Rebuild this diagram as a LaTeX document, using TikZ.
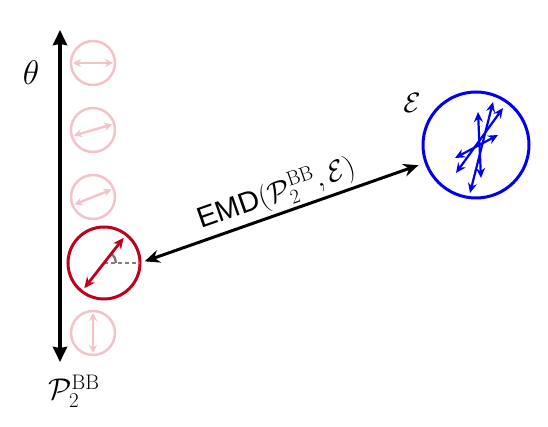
\RequirePackage{fix-cm}
\documentclass[tikz,border=0pt]{standalone}
\usepackage{fontspec}
\newfontfamily\labelsans{Liberation Sans}
\usetikzlibrary{arrows.meta}
\definecolor{faded}{RGB}{242,196,202}
\definecolor{crimson}{RGB}{192,0,30}
\definecolor{emdblue}{RGB}{0,0,235}
\begin{document}
\begin{tikzpicture}[x=1pt,y=1pt,>=Stealth,
  ghost/.style={draw=faded, line width=2.5pt, circle, minimum size=44pt, inner sep=0pt, outer sep=0pt},
  ghostarr/.style={<->, faded, line width=2.4pt, shorten <=2pt, shorten >=2pt, >={Stealth[length=8pt,width=8pt]}},
  errarr/.style={<->, emdblue, line width=2.2pt, >={Stealth[length=10pt,width=9pt]}}]
\useasboundingbox (0,0) rectangle (548,427);

\coordinate (top) at (60,397);
\coordinate (bot) at (60,65);
\draw[<->, line width=4.5pt, >={Stealth[length=15pt,width=14pt,inset=1pt]}] (bot) -- (top);
\node at (31,354) {\fontsize{34}{40}\selectfont$\theta$};
\node (pbb) at (74,36) {\fontsize{30}{36}\selectfont$\mathcal{P}_2^{\mathrm{BB}}$};

\node[ghost] (g1) at (93,364) {};
\node[ghost] (g2) at (93,297) {};
\node[ghost] (g3) at (93,230) {};
\node[ghost] (g4) at (93,94) {};
\draw[ghostarr] (g1.180) -- (g1.0);
\draw[ghostarr] (g2.196) -- (g2.16);
\draw[ghostarr] (g3.202) -- (g3.22);
\draw[ghostarr] (g4.270) -- (g4.90);

\node[draw=crimson, line width=3pt, circle, minimum size=72pt, inner sep=0pt, outer sep=0pt] (red) at (104,164) {};
\draw[gray, line width=1.2pt, dash pattern=on 4pt off 3pt] (red.center) -- (red.east);
\draw[black!55, line width=2.2pt] ([shift={(12,0)}]red.center) arc[start angle=0, end angle=50, radius=12];
\draw[<->, crimson, line width=2.8pt, shorten <=4pt, shorten >=4pt, >={Stealth[length=11pt,width=10pt]}] (red.232) -- (red.52);

\node[draw=emdblue, line width=3pt, circle, minimum size=106pt, inner sep=0pt, outer sep=0pt] (blue) at (476,282) {};
\node (eps) at (412,324) {\fontsize{28}{34}\selectfont$\mathcal{E}$};
\draw[errarr] ([shift={(-20,-28)}]blue.center) -- ([shift={(27,37)}]blue.center);
\draw[errarr] ([shift={(-21,-13)}]blue.center) -- ([shift={(22,10)}]blue.center);
\draw[errarr] ([shift={(-6,-48)}]blue.center) -- ([shift={(17,43)}]blue.center);
\draw[errarr] ([shift={(5,-33)}]blue.center) -- ([shift={(2,33)}]blue.center);

\draw[<->, line width=3pt, shorten <=5pt, shorten >=8pt, >={Stealth[length=15pt,width=13pt]}] (red.east) -- (blue)
  node[midway, above=0pt, sloped] {\fontsize{29}{34}\selectfont{\labelsans EMD}$(\mathcal{P}_2^{\mathrm{BB}},\mathcal{E})$};
\end{tikzpicture}
\end{document}
